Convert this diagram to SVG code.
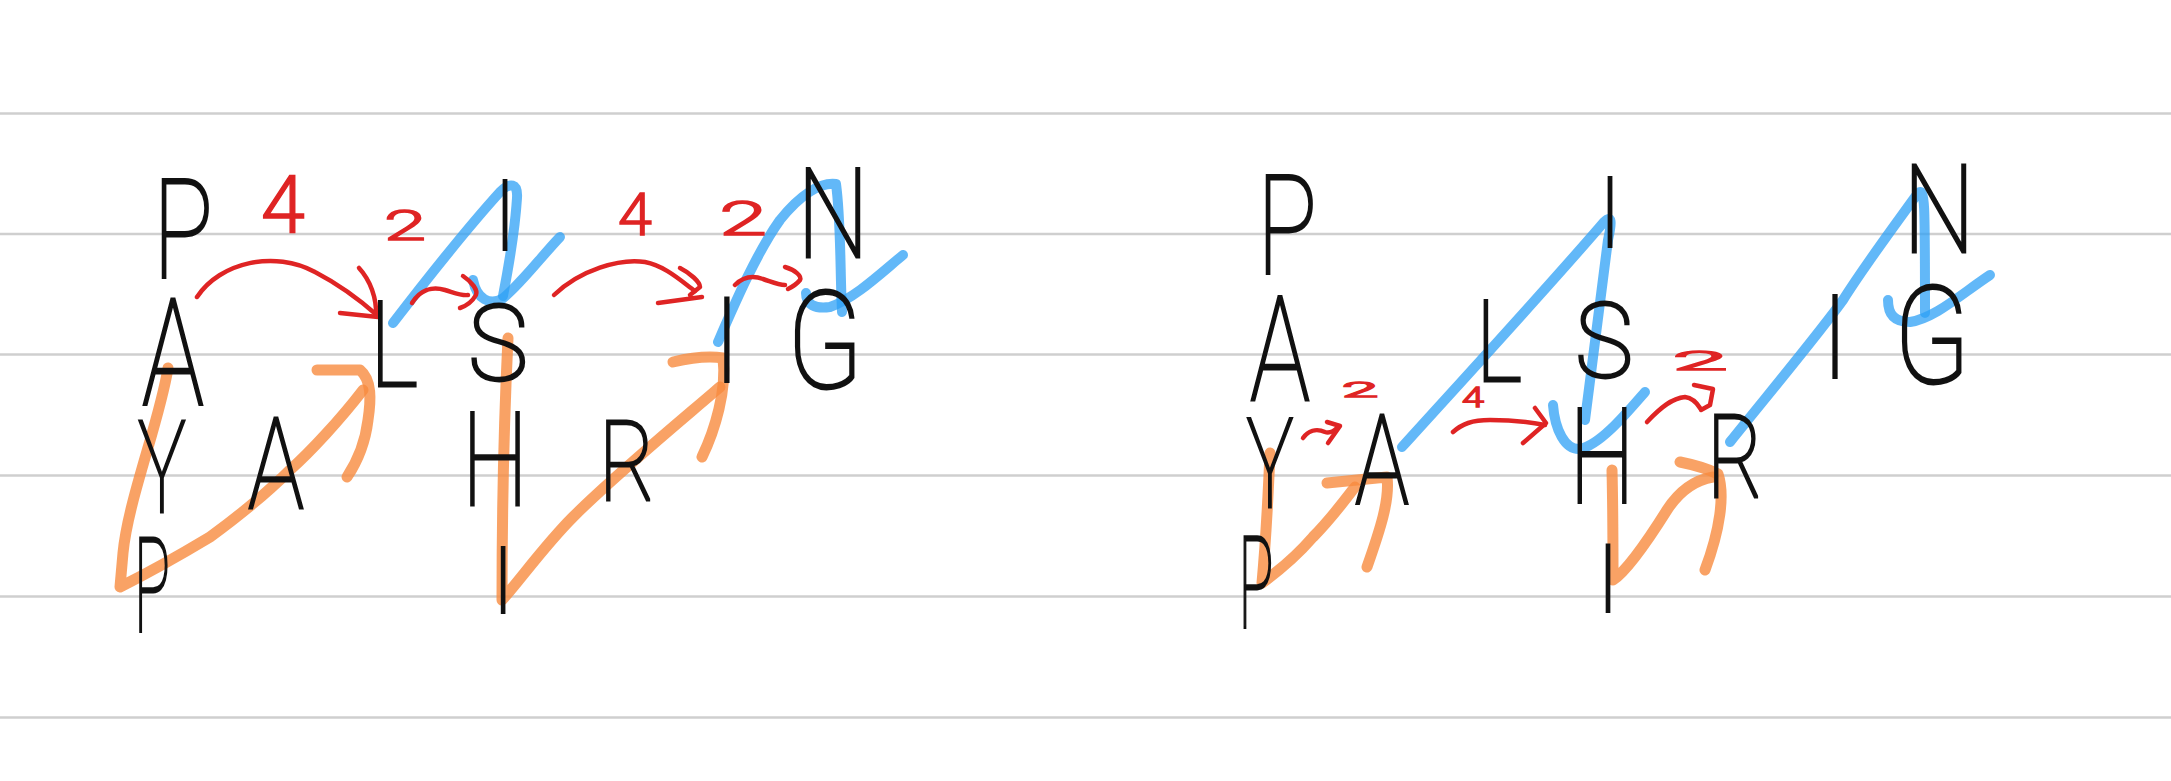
<svg xmlns="http://www.w3.org/2000/svg" width="2171" height="781" viewBox="0 0 2171 781">
<style>
.rule{stroke:#cfcfcf;stroke-width:2.5}
.t{font-family:Roboto,"Liberation Sans",sans-serif;font-weight:100;fill:#111;stroke:#111;stroke-width:2.8;text-anchor:middle}
.i{font-family:Roboto,"Liberation Sans",sans-serif;font-weight:100;fill:#111;stroke:#111;stroke-width:2.2;text-anchor:middle}
.n{font-family:Roboto,"Liberation Sans",sans-serif;font-weight:300;fill:#df2424;stroke:#df2424;stroke-width:1.4;text-anchor:middle}
.red{fill:none;stroke:#df2424;stroke-width:4.5;stroke-linecap:round;stroke-linejoin:round}
.blue{fill:none;stroke:#2ea0f6;stroke-opacity:0.75;stroke-width:10;stroke-linecap:round;stroke-linejoin:round}
.orange{fill:none;stroke:#f88b3e;stroke-opacity:0.8;stroke-width:11;stroke-linecap:round;stroke-linejoin:round}
</style>
<rect width="2171" height="781" fill="#ffffff"/>
<g id="ruled-lines">
<line class="rule" x1="0" y1="113.5" x2="2171" y2="113.5"/>
<line class="rule" x1="0" y1="234" x2="2171" y2="234"/>
<line class="rule" x1="0" y1="354.5" x2="2171" y2="354.5"/>
<line class="rule" x1="0" y1="475.5" x2="2171" y2="475.5"/>
<line class="rule" x1="0" y1="596.5" x2="2171" y2="596.5"/>
<line class="rule" x1="0" y1="717.5" x2="2171" y2="717.5"/>
</g>
<g id="connectors">
<g id="highlights">
<path class="orange" d="M168,368 C160,420 128,500 123,553 L120,587 C150,572 180,555 210,537 C240,515 270,490 290,470 C310,452 340,420 363,390"/>
<path class="orange" d="M317,370 L360,370 C372,380 371,400 368,420 C365,445 357,462 347,477"/>
<path class="orange" d="M508,338 C505,400 502,500 502,600 C520,580 545,545 573,517 C600,490 640,455 693,410 C705,400 713,393 720,387"/>
<path class="orange" d="M673,362 C690,358 710,356 723,358 C727,390 715,430 702,457"/>
<path class="orange" d="M1270,453 C1268,500 1265,550 1262,583 C1280,570 1300,552 1313,537 C1330,520 1345,500 1355,487"/>
<path class="orange" d="M1327,483 L1387,477 C1390,500 1380,530 1367,567"/>
<path class="orange" d="M1612,470 C1613,510 1613,550 1613,580 C1625,572 1645,545 1667,510 C1680,490 1695,480 1713,477"/>
<path class="orange" d="M1680,462 C1695,465 1710,470 1718,474 C1725,495 1720,530 1705,570"/>
<path class="blue" d="M393,323 C430,275 470,225 500,192 C510,182 518,183 517,198 C515,230 508,270 503,296"/>
<path class="blue" d="M473,280 C477,300 490,305 502,299 C520,285 540,258 560,237"/>
<path class="blue" d="M718,342 C735,303 757,252 780,220 C800,195 820,182 836,184 C841,220 840,270 842,312"/>
<path class="blue" d="M806,293 C806,305 815,309 830,307 C855,298 880,274 903,255"/>
<path class="blue" d="M1402,447 C1470,372 1550,285 1604,222 C1612,214 1612,222 1608,240 L1585,420"/>
<path class="blue" d="M1553,405 C1555,430 1565,450 1580,449 C1600,445 1625,415 1645,392"/>
<path class="blue" d="M1730,442 C1780,380 1820,332 1843,300 C1865,265 1895,225 1918,193 C1925,188 1925,200 1925,313"/>
<path class="blue" d="M1888,300 C1888,315 1895,322 1910,322 C1935,318 1960,295 1990,275"/>
</g>
<g id="jumps">
<path class="red" d="M197,297 C220,262 275,250 315,272 C340,285 360,300 378,316"/>
<path class="red" d="M359,268 C370,280 377,298 376,316 M340,313 L378,317"/>
<path class="red" d="M412,303 C420,290 432,286 445,290 C455,293 462,296 468,295"/>
<path class="red" d="M463,276 C472,282 478,290 476,295 C472,302 466,306 460,308"/>
<path class="red" d="M554,295 C580,270 620,258 645,262 C665,266 680,280 695,291"/>
<path class="red" d="M680,268 C690,273 700,282 700,287 L690,295 M658,303 L702,297"/>
<path class="red" d="M735,285 C742,278 752,275 763,279 C772,282 778,285 785,285"/>
<path class="red" d="M785,267 C795,270 802,276 800,280 C796,285 792,287 788,289"/>
<path class="red" d="M1303,438 C1308,431 1316,428 1325,432 C1330,434 1335,430 1338,427"/>
<path class="red" d="M1327,422 L1340,426 L1328,443"/>
<path class="red" d="M1453,432 C1462,424 1472,420 1490,420 C1510,420 1530,422 1545,425"/>
<path class="red" d="M1535,408 L1546,423 L1523,443"/>
<path class="red" d="M1647,422 C1660,408 1672,398 1685,397 C1692,398 1697,403 1700,408"/>
<path class="red" d="M1694,385 L1713,389 L1710,405 L1701,410"/>
</g>
</g>
<g id="numbers">
<text class="n" x="283" y="232" font-size="80" textLength="44" lengthAdjust="spacingAndGlyphs">4</text>
<text class="n" x="405" y="240" font-size="42" textLength="42" lengthAdjust="spacingAndGlyphs">2</text>
<text class="n" x="635" y="235" font-size="60" textLength="34" lengthAdjust="spacingAndGlyphs">4</text>
<text class="n" x="743" y="235" font-size="49" textLength="48" lengthAdjust="spacingAndGlyphs">2</text>
<text class="n" x="1360" y="397" font-size="21" textLength="36" lengthAdjust="spacingAndGlyphs">2</text>
<text class="n" x="1473" y="407" font-size="28" textLength="22" lengthAdjust="spacingAndGlyphs">4</text>
<text class="n" x="1700" y="370" font-size="26" textLength="55" lengthAdjust="spacingAndGlyphs">2</text>
</g>
<g id="left-zigzag">
<g id="l-P1"><text class="t" x="183" y="277" font-size="138" textLength="60" lengthAdjust="spacingAndGlyphs">P</text></g>
<g id="l-A1"><text class="t" x="173" y="405" font-size="148" textLength="62" lengthAdjust="spacingAndGlyphs">A</text></g>
<g id="l-Y"><text class="t" x="162" y="512" font-size="128" textLength="48" lengthAdjust="spacingAndGlyphs">Y</text></g>
<g id="l-P2"><text class="t" x="152" y="632" font-size="132" textLength="36" lengthAdjust="spacingAndGlyphs">P</text></g>
<g id="l-A2"><text class="t" x="276" y="508" font-size="126" textLength="56" lengthAdjust="spacingAndGlyphs">A</text></g>
<g id="l-L"><text class="t" x="394" y="386" font-size="118" textLength="48" lengthAdjust="spacingAndGlyphs">L</text></g>
<g id="l-I1"><text class="i" x="505" y="250" font-size="98">I</text></g>
<g id="l-S"><text class="t" x="498" y="380" font-size="105" textLength="60" lengthAdjust="spacingAndGlyphs">S</text></g>
<g id="l-H"><text class="t" x="495" y="505" font-size="129" textLength="66" lengthAdjust="spacingAndGlyphs">H</text></g>
<g id="l-I2"><text class="i" x="503" y="613" font-size="93">I</text></g>
<g id="l-R"><text class="t" x="627" y="500" font-size="112" textLength="56" lengthAdjust="spacingAndGlyphs">R</text></g>
<g id="l-I3"><text class="i" x="727" y="382" font-size="118">I</text></g>
<g id="l-G"><text class="t" x="825" y="388" font-size="135" textLength="76" lengthAdjust="spacingAndGlyphs">G</text></g>
<g id="l-N"><text class="t" x="833" y="257" font-size="125" textLength="72" lengthAdjust="spacingAndGlyphs">N</text></g>
</g>
<g id="right-zigzag">
<g id="r-P1"><text class="t" x="1287" y="273" font-size="138" textLength="60" lengthAdjust="spacingAndGlyphs">P</text></g>
<g id="r-A1"><text class="t" x="1280" y="400" font-size="145" textLength="60" lengthAdjust="spacingAndGlyphs">A</text></g>
<g id="r-Y"><text class="t" x="1270" y="507" font-size="125" textLength="47" lengthAdjust="spacingAndGlyphs">Y</text></g>
<g id="r-P2"><text class="t" x="1256" y="628" font-size="128" textLength="35" lengthAdjust="spacingAndGlyphs">P</text></g>
<g id="r-A2"><text class="t" x="1382" y="503" font-size="124" textLength="54" lengthAdjust="spacingAndGlyphs">A</text></g>
<g id="r-L"><text class="t" x="1499" y="381" font-size="114" textLength="46" lengthAdjust="spacingAndGlyphs">L</text></g>
<g id="r-I1"><text class="i" x="1610" y="247" font-size="98">I</text></g>
<g id="r-S"><text class="t" x="1604" y="377" font-size="104" textLength="58" lengthAdjust="spacingAndGlyphs">S</text></g>
<g id="r-H"><text class="t" x="1602" y="503" font-size="131" textLength="65" lengthAdjust="spacingAndGlyphs">H</text></g>
<g id="r-I2"><text class="i" x="1608" y="612" font-size="94">I</text></g>
<g id="r-R"><text class="t" x="1735" y="497" font-size="115" textLength="56" lengthAdjust="spacingAndGlyphs">R</text></g>
<g id="r-I3"><text class="i" x="1835" y="378" font-size="117">I</text></g>
<g id="r-G"><text class="t" x="1932" y="383" font-size="135" textLength="76" lengthAdjust="spacingAndGlyphs">G</text></g>
<g id="r-N"><text class="t" x="1939" y="252" font-size="122" textLength="72" lengthAdjust="spacingAndGlyphs">N</text></g>
</g>
</svg>
